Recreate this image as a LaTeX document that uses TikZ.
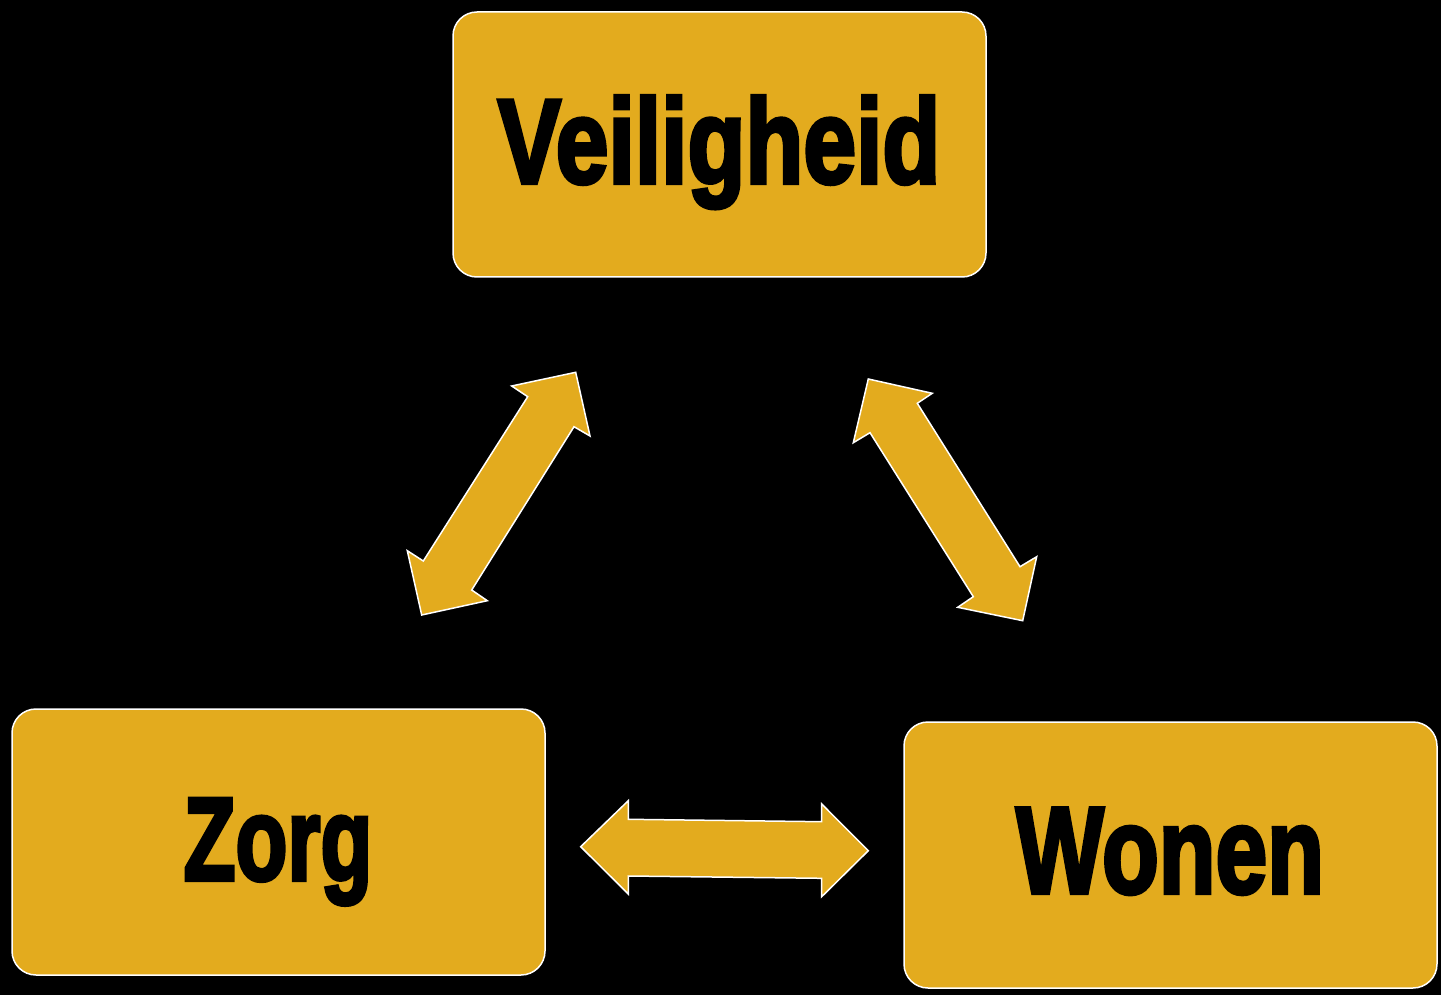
\documentclass[tikz,border=0pt]{standalone}
\usepackage{fontspec}
\newfontfamily\heavy[FakeBold=3.5]{Liberation Sans Bold}
\definecolor{gold}{HTML}{E3AB1E}
\tikzset{
  box/.style={draw=white, line width=1.5pt, fill=gold, rounded corners=24pt},
  blockarrow/.style={draw=white, line width=1.5pt, fill=gold, line join=miter},
  lbl/.style={anchor=base, inner sep=0pt, text=black}
}
\begin{document}
\begin{tikzpicture}[x=1pt,y=-1pt]
\fill[black] (0,0) rectangle (1441,995);
\useasboundingbox (0,0) rectangle (1441,995);
% boxes
\draw[box] (453,12) rectangle (986,277);
\draw[box] (12,709) rectangle (545,975);
\draw[box] (904,722) rectangle (1437,988);
% labels
\node[lbl] (veil) at (719,183) {\scalebox{0.79}[1]{\fontsize{120}{120}\heavy Veiligheid}};
\node[lbl] (zorg) at (278,880) {\scalebox{0.72}[1]{\fontsize{118}{118}\heavy Zorg}};
\node[lbl] (wonen) at (1170,893) {\scalebox{0.755}[1]{\fontsize{123}{123}\heavy Wonen}};
% arrows
\draw[blockarrow] (575.7,372.3) -- (590,436) -- (574,426.7) -- (471.7,590) -- (487.3,600.7)
  -- (421.7,615) -- (407.3,550.7) -- (423.3,561) -- (527.7,396.7) -- (511.7,386) -- cycle;
\draw[blockarrow] (868.3,379) -- (932.3,393.3) -- (917.3,403.3) -- (1020,566.7) -- (1036.7,556.7)
  -- (1022.7,620.7) -- (957.7,607.3) -- (973.3,596.7) -- (870,432.7) -- (853.3,442.7) -- cycle;
\draw[blockarrow] (580.7,846.7) -- (628.3,800.7) -- (628.3,819.3) -- (821.7,821.7) -- (821.7,804)
  -- (868.3,850.7) -- (821.7,896.7) -- (821.7,878.3) -- (628.3,876) -- (628.3,894) -- cycle;
\end{tikzpicture}
\end{document}
